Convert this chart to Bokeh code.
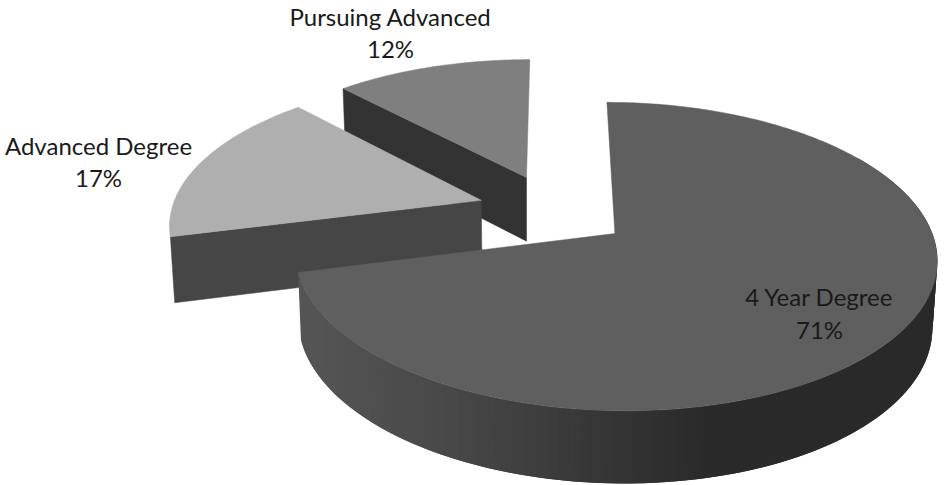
import numpy as np
from bokeh.core.properties import value
from bokeh.embed import file_html
from bokeh.models import Range1d
from bokeh.plotting import figure
from bokeh.resources import INLINE

# Chart data
categories = ["4 Year Degree", "Advanced Degree", "Pursuing Advanced"]
shares = [71, 17, 12]
top_colors = ["#5f5f5f", "#afafaf", "#7f7f7f"]
wall_colors = [None, "#464646", "#333333"]

# Perspective camera for the tilted, exploded pie
OX, OY = 553.0, 210.0
RX, RY = 310.0, 144.0
K = 0.146
EXPLODE_X, EXPLODE_Y = 0.245, 0.255
DEPTH = 65.0
VX, SHRINK = 530.0, 0.012


def project(X, Y, lower=False):
    X, Y = np.asarray(X, float), np.asarray(Y, float)
    s = 1.0 / (1.0 + K * Y)
    x = OX + RX * X * s
    y = OY - RY * Y * s
    if lower:
        x = VX + (x - VX) * (1 - SHRINK)
        y = y + DEPTH * s ** 0.6
    return x, y


total = sum(shares)
edges = np.cumsum([0] + shares) / total * 2 * np.pi
slices = []
for i, share in enumerate(shares):
    a0, a1 = edges[i], edges[i + 1]
    mid = (a0 + a1) / 2
    cx, cy = EXPLODE_X * np.sin(mid), EXPLODE_Y * np.cos(mid)
    t = np.linspace(a0, a1, max(8, int(share * 4)))
    slices.append(dict(cx=cx, cy=cy, t=t, arc_x=cx + np.sin(t), arc_y=cy + np.cos(t)))

p = figure(width=944, height=485, output_backend="svg", toolbar_location=None,
           x_range=Range1d(0, 944), y_range=Range1d(485, 0), min_border=0,
           outline_line_color=None, background_fill_color="white",
           border_fill_color="white")
p.axis.visible = False
p.grid.visible = False


def draw_cut_wall(sl, color):
    # Flat cut face running from the slice's apex to the start of its arc
    wx = np.array([sl["cx"], sl["arc_x"][0]])
    wy = np.array([sl["cy"], sl["arc_y"][0]])
    ux, uy = project(wx, wy)
    lx, ly = project(wx, wy, lower=True)
    p.patch(list(ux) + list(lx[::-1]), list(uy) + list(ly[::-1]),
            fill_color=color, line_color=color, line_width=0.5)


def draw_top(sl, color):
    wx = np.concatenate([[sl["cx"]], sl["arc_x"]])
    wy = np.concatenate([[sl["cy"]], sl["arc_y"]])
    x, y = project(wx, wy)
    p.patch(x, y, fill_color=color, line_color=color, line_width=0.5)


# Back to front: pursuing, advanced, then the large slice over them
draw_cut_wall(slices[2], wall_colors[2])
draw_top(slices[2], top_colors[2])
draw_cut_wall(slices[1], wall_colors[1])
draw_top(slices[1], top_colors[1])

# Rim of the large slice, shaded from mid grey on the left to near black on the right
main = slices[0]
fine = np.linspace(main["t"][0] + 1.0, main["t"][-1], 200)
ux, uy = project(main["cx"] + np.sin(fine), main["cy"] + np.cos(fine))
lx, ly = project(main["cx"] + np.sin(fine), main["cy"] + np.cos(fine), lower=True)
xs, ys, colors = [], [], []
for j in range(len(fine) - 1, 0, -1):
    # Strips overlap their neighbour so that no seams show between them
    k = max(j - 2, 0)
    xs.append([ux[j], ux[k], lx[k], lx[j]])
    ys.append([uy[j], uy[k], ly[k], ly[j]])
    g = int(np.interp(ux[j], [300, 450, 620, 700, 944], [0x56, 0x48, 0x34, 0x2b, 0x2a]))
    colors.append(f"#{g:02x}{g:02x}{g:02x}")
p.patches(xs, ys, fill_color=colors, line_color=None)
draw_top(main, top_colors[0])

# Data labels
FONT = value("Lato")
label_pos = [(819, 296, 329), (98, 145, 177), (390, 16, 48)]
for name, share, (x0, y1, y2) in zip(categories, shares, label_pos):
    p.text([x0], [y1], text=[name], text_font=FONT, text_font_size="24px",
           text_color="#1a1a1a", text_align="center", text_baseline="middle")
    p.text([x0], [y2], text=[f"{share}%"], text_font=FONT, text_font_size="24px",
           text_color="#1a1a1a", text_align="center", text_baseline="middle")

open("out.html", "w").write(file_html(p, INLINE))
